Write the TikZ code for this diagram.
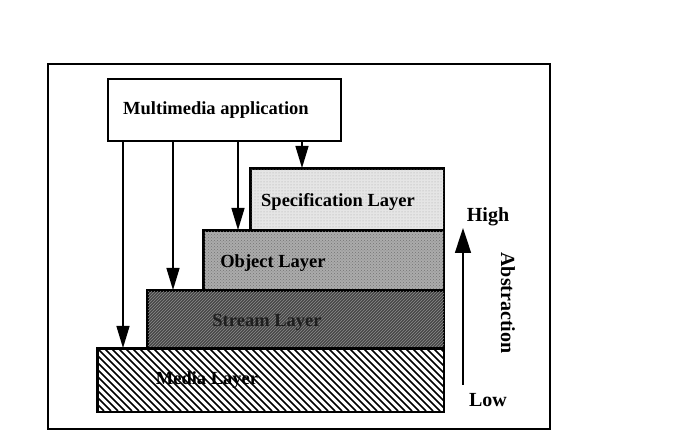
\documentclass[tikz,border=0pt]{standalone}
\usepackage{fontspec}
\setmainfont{Liberation Serif}
\usetikzlibrary{arrows.meta,patterns}
\begin{document}
\begin{tikzpicture}[x=1pt,y=-1pt,
  lbl/.style={font=\fontsize{18.5}{20}\selectfont\bfseries, inner sep=0pt},
  side/.style={font=\fontsize{20}{22}\selectfont\bfseries, inner sep=0pt},
  layerbox/.style={draw, line width=1.6pt, anchor=north west, inner sep=0pt},
  arr/.style={line width=1.3pt, -{Triangle[length=22pt,width=13pt]}}]
\useasboundingbox (0,0) rectangle (697,446);
% outer frame
\node[draw, line width=2pt, anchor=north west, minimum width=502pt, minimum height=365pt, inner sep=0pt] (frame) at (47,63) {};
% application box
\node[draw, line width=1.6pt, anchor=north west, minimum width=233pt, minimum height=62pt, inner sep=0pt] (app) at (107,78) {};
\node[lbl] (apptext) at (216,110) {Multimedia application};
% layers
\node[layerbox, fill=black!10, minimum width=193pt, minimum height=62pt] (spec) at (250,168) {};
\fill[pattern=dots, pattern color=black!35] (spec.south west) rectangle (spec.north east);
\draw[line width=1.6pt] (spec.south west) rectangle (spec.north east);
\node[layerbox, fill=black!33, minimum width=240pt, minimum height=60pt] (obj) at (203,230) {};
\fill[pattern=crosshatch dots, pattern color=black!55] (obj.south west) rectangle (obj.north east);
\draw[line width=1.6pt] (obj.south west) rectangle (obj.north east);
\node[layerbox, fill=black!72, minimum width=296pt, minimum height=58pt] (stream) at (147,290) {};
\fill[pattern=north east lines, pattern color=black!45] (stream.south west) rectangle (stream.north east);
\draw[line width=1.6pt] (stream.south west) rectangle (stream.north east);
\node[layerbox, fill=white, minimum width=346pt, minimum height=63pt] (media) at (97,348) {};
\begin{scope}
\clip (media.south west) rectangle (media.north east);
\foreach \i in {-70,-63,...,350} \draw[line width=1.5pt] (97+\i,348) -- ++(63,63);
\end{scope}
\draw[line width=1.6pt] (media.south west) rectangle (media.north east);
% layer labels
\node[lbl] (spectext) at (338,202) {Specification Layer};
\node[lbl] (objtext) at (273,263) {Object Layer};
\node[lbl, text=black!88] (streamtext) at (267,322) {Stream Layer};
\node[lbl] (mediatext) at (207,380) {Media Layer};
% arrows from application
\coordinate (x1) at (123,0);
\coordinate (x2) at (173,0);
\coordinate (x3) at (238,0);
\coordinate (x4) at (302,0);
\draw[arr] (app.south -| x1) -- (media.north -| x1);
\draw[arr] (app.south -| x2) -- (stream.north -| x2);
\draw[arr] (app.south -| x3) -- (obj.north -| x3);
\draw[arr] (app.south -| x4) -- (spec.north -| x4);
% abstraction axis
\coordinate (lowend) at (463,385);
\coordinate (highend) at (463,228);
\draw[line width=1.6pt, -{Triangle[length=25pt,width=16pt]}] (lowend) -- (highend);
\node[side] (high) at (488,217) {High};
\node[side] (low) at (488,400) {Low};
\node[side, rotate=-90] (abs) at (508,303) {Abstraction};
\end{tikzpicture}
\end{document}
